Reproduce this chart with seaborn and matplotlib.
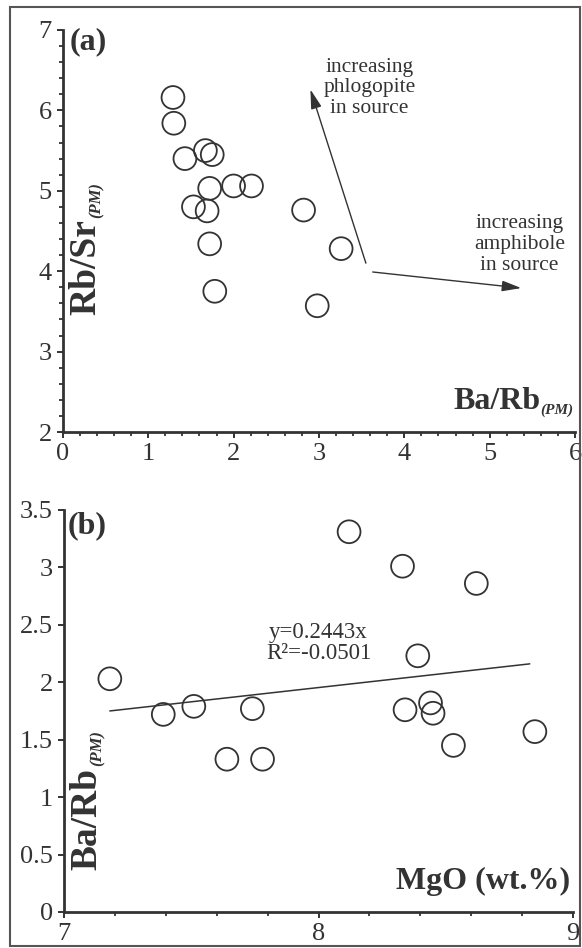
import matplotlib
matplotlib.use("Agg")
import matplotlib.pyplot as plt
import matplotlib.patches as patches
from matplotlib.ticker import MultipleLocator
import seaborn as sns

# panel (a): Rb/Sr vs Ba/Rb (primitive mantle normalised)
a_ba_rb = [1.29, 1.30, 1.43, 1.67, 1.75, 1.53, 1.72, 1.69, 2.00, 2.21, 1.72, 1.78, 2.82, 3.26, 2.98]
a_rb_sr = [6.16, 5.84, 5.40, 5.50, 5.45, 4.80, 5.03, 4.75, 5.06, 5.06, 4.34, 3.75, 4.76, 4.28, 3.57]

# panel (b): Ba/Rb vs MgO
b_mgo = [7.18, 7.39, 7.51, 7.74, 7.64, 7.78, 8.12, 8.33, 8.62, 8.39, 8.34, 8.44, 8.45, 8.53, 8.85]
b_ba_rb = [2.03, 1.72, 1.79, 1.77, 1.33, 1.33, 3.31, 3.01, 2.86, 2.23, 1.76, 1.82, 1.73, 1.45, 1.57]

# trend line as drawn in (b)
fit_x = [7.18, 8.83]
fit_y = [1.75, 2.16]

# source arrows in (a): start -> end
phl_arrow = [(3.55, 4.10), (2.90, 6.26)]
amp_arrow = [(3.63, 3.99), (5.37, 3.79)]

INK = "#333333"
SERIF = ["Liberation Serif", "DejaVu Serif"]

sns.set_style("ticks")
plt.rcParams["font.family"] = SERIF
plt.rcParams["text.color"] = INK
plt.rcParams["axes.edgecolor"] = INK
plt.rcParams["xtick.color"] = INK
plt.rcParams["ytick.color"] = INK

fig = plt.figure(figsize=(5.82, 9.48), dpi=100)
ax1 = fig.add_axes([0.108, 0.5443, 0.880, 0.4241])
ax2 = fig.add_axes([0.110, 0.0380, 0.8746, 0.4241])

# outer frame around the whole figure
fig.patches.append(patches.Rectangle((10 / 582, 2 / 948), 570 / 582, 939 / 948,
                                     transform=fig.transFigure, fill=False,
                                     edgecolor="#555555", lw=1.5))


def style_axes(ax):
    sns.despine(ax=ax)
    for s in ["left", "bottom"]:
        ax.spines[s].set_linewidth(2.0)
    ax.tick_params(which="major", direction="out", length=4, width=1.4,
                   labelsize=19, pad=4)
    ax.tick_params(which="minor", direction="out", length=3.2, width=1.3)


def scatter(ax, x, y):
    sns.scatterplot(x=x, y=y, s=270, ax=ax, legend=False, zorder=3)
    coll = ax.collections[-1]
    coll.set_facecolor("none")
    coll.set_edgecolor(INK)
    coll.set_linewidth(1.3)


def split_label(ax, main, sub, xy, rotation=0):
    # bold label with a small bold-italic "(PM)" subscript
    if rotation == 0:
        t = ax.text(xy[0], xy[1], sub, transform=ax.transAxes, ha="right",
                    va="baseline", fontsize=11, fontweight="bold", style="italic")
        ax.annotate(main, xy=(0, 0.05), xycoords=t, xytext=(0.5, 0),
                    textcoords="offset points", ha="right", va="bottom",
                    fontsize=23, fontweight="bold")
    else:
        t = ax.text(xy[0], xy[1], main, transform=ax.transAxes, ha="center",
                    va="bottom", rotation=90, fontsize=27, fontweight="bold")
        ax.annotate(sub, xy=(1.0, 1.0), xycoords=t, xytext=(1, 1.2),
                    textcoords="offset points", ha="right", va="bottom",
                    rotation=90, fontsize=12, fontweight="bold", style="italic")


# ---------- (a) ----------
scatter(ax1, a_ba_rb, a_rb_sr)
ax1.set_xlim(0, 6)
ax1.set_ylim(2, 7)
ax1.xaxis.set_major_locator(MultipleLocator(1))
ax1.xaxis.set_minor_locator(MultipleLocator(0.2))
ax1.yaxis.set_major_locator(MultipleLocator(1))
ax1.yaxis.set_minor_locator(MultipleLocator(0.2))
style_axes(ax1)
ax1.set_xlabel("")
ax1.set_ylabel("")
ax1.text(0.014, 1.007, "(a)", transform=ax1.transAxes, ha="left", va="top",
         fontsize=23, fontweight="bold")
split_label(ax1, "Ba/Rb", "(PM)", (0.997, 0.045))
split_label(ax1, "Rb/Sr", "(PM)", (0.045, 0.29), rotation=90)

arrow_kw = dict(arrowstyle="-|>,head_length=0.9,head_width=0.25", color=INK,
                lw=1.0, mutation_scale=13, shrinkA=0, shrinkB=0)
ax1.annotate("", xy=phl_arrow[1], xytext=phl_arrow[0], arrowprops=arrow_kw)
ax1.annotate("", xy=amp_arrow[1], xytext=amp_arrow[0], arrowprops=arrow_kw)
ax1.text(3.59, 6.28, "increasing\nphlogopite\nin source", ha="center", va="center",
         fontsize=15.5, linespacing=1.12)
ax1.text(5.35, 4.33, "increasing\namphibole\nin source", ha="center", va="center",
         fontsize=15.5, linespacing=1.12)

# ---------- (b) ----------
scatter(ax2, b_mgo, b_ba_rb)
sns.lineplot(x=fit_x, y=fit_y, ax=ax2, color=INK, lw=1.1, sort=False)
ax2.set_xlim(7, 9)
ax2.set_ylim(0, 3.5)
ax2.xaxis.set_major_locator(MultipleLocator(1))
ax2.xaxis.set_minor_locator(MultipleLocator(0.2))
ax2.yaxis.set_major_locator(MultipleLocator(0.5))
ax2.yaxis.set_major_formatter(plt.FuncFormatter(lambda v, p: f"{v:g}"))
style_axes(ax2)
ax2.set_xlabel("")
ax2.set_ylabel("")
ax2.text(0.007, 0.997, "(b)", transform=ax2.transAxes, ha="left", va="top",
         fontsize=23, fontweight="bold")
ax2.text(8.0, 2.34, "y=0.2443x\nR\u00b2=-0.0501", ha="center", va="center",
         fontsize=16.5, linespacing=0.98)
ax2.text(0.995, 0.04, "MgO (wt.%)", transform=ax2.transAxes, ha="right",
         va="bottom", fontsize=23, fontweight="bold")
split_label(ax2, "Ba/Rb", "(PM)", (0.045, 0.104), rotation=90)

fig.savefig("out.png", dpi=100)
